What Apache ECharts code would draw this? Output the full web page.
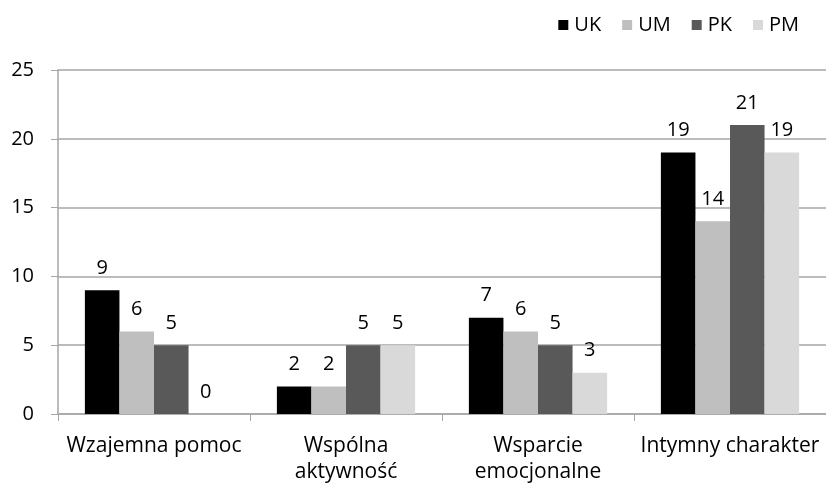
<!DOCTYPE html>
<html><head><meta charset="utf-8">
<script src="https://cdn.jsdelivr.net/npm/echarts@6/dist/echarts.min.js"></script>
<style>html,body{margin:0;padding:0;background:#fff}#c{width:826px;height:485px}</style>
</head><body><div id="c"></div>
<script>
const categories = ['Wzajemna pomoc', 'Wspólna\naktywność', 'Wsparcie\nemocjonalne', 'Intymny charakter'];
const seriesNames = ['UK', 'UM', 'PK', 'PM'];
const UK = [9, 2, 7, 19];
const UM = [6, 2, 6, 14];
const PK = [5, 5, 5, 21];
const PM = [0, 5, 3, 19];
const colors = ['#000000', '#bfbfbf', '#595959', '#d9d9d9'];
const yTicks = {min: 0, max: 25, interval: 5};

const FONT = 'Open Sans';
const values = [UK, UM, PK, PM];
const chart = echarts.init(document.getElementById('c'));
chart.setOption({
  animation: false,
  textStyle: {fontFamily: FONT},
  legend: {
    top: 10, right: 22, itemWidth: 10, itemHeight: 10, itemGap: 21,
    icon: 'rect',
    textStyle: {fontFamily: FONT, fontSize: 20, color: '#000', padding: [0, 0, 0, 1]},
    data: seriesNames
  },
  grid: {left: 58, right: -8, top: 70, bottom: 69, containLabel: false},
  xAxis: {
    type: 'category', data: categories,
    axisLine: {lineStyle: {color: '#a6a6a6', width: 1.5}},
    axisTick: {show: true, length: 7, lineStyle: {color: '#a6a6a6'}},
    axisLabel: {interval: 0, fontFamily: FONT, fontSize: 21, color: '#000', margin: 19, lineHeight: 26}
  },
  yAxis: {
    type: 'value', min: yTicks.min, max: yTicks.max, interval: yTicks.interval,
    axisLine: {show: true, lineStyle: {color: '#a6a6a6', width: 1.5}},
    axisTick: {show: true, length: 7, lineStyle: {color: '#a6a6a6'}},
    splitLine: {lineStyle: {color: '#a6a6a6', width: 1.5}},
    axisLabel: {fontFamily: FONT, fontSize: 20, color: '#000', margin: 24}
  },
  series: seriesNames.map((n, i) => ({
    name: n, type: 'bar', data: values[i],
    barGap: '0%', barCategoryGap: '28%',
    itemStyle: {color: colors[i]},
    label: {show: true, position: 'top', distance: 12, fontFamily: FONT, fontSize: 20, color: '#000'}
  }))
});
</script></body></html>
